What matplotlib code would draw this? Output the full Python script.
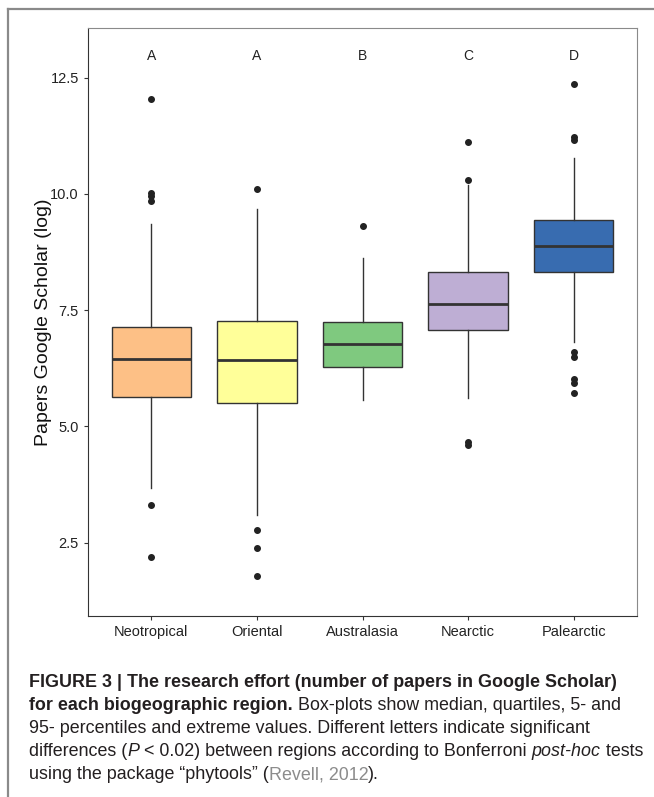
import matplotlib
matplotlib.use('Agg')
import matplotlib.pyplot as plt
from matplotlib.lines import Line2D
from matplotlib import font_manager

regions = ['Neotropical', 'Oriental', 'Australasia', 'Nearctic', 'Palearctic']
letters = ['A', 'A', 'B', 'C', 'D']
colors = ['#FDC086', '#FFFF99', '#7FC97F', '#BEAED4', '#386CB0']

q1 = [5.63, 5.50, 6.27, 7.07, 8.33]
med = [6.44, 6.43, 6.77, 7.63, 8.89]
q3 = [7.13, 7.27, 7.24, 8.31, 9.45]
whislo = [3.67, 3.10, 5.57, 5.62, 6.82]
whishi = [9.35, 9.68, 8.63, 10.19, 10.77]
fliers = [
    [12.05, 10.01, 9.96, 9.85, 3.30, 2.19],
    [10.11, 2.77, 2.39, 1.79],
    [9.32],
    [11.12, 10.31, 4.67, 4.60],
    [12.36, 11.23, 11.16, 6.59, 6.50, 6.02, 5.94, 5.71],
]

stats = []
for i in range(len(regions)):
    stats.append({'label': regions[i], 'q1': q1[i], 'med': med[i], 'q3': q3[i],
                  'whislo': whislo[i], 'whishi': whishi[i], 'fliers': fliers[i]})

plt.rcParams['font.family'] = ['Liberation Sans', 'DejaVu Sans']

fig = plt.figure(figsize=(6.54, 7.97), dpi=100)
W, H = 654, 797

# frame lines of the page figure
fig.add_artist(Line2D([8 / W, 1], [1 - 9 / H, 1 - 9 / H], color='#8a8a8a', lw=1.6))
fig.add_artist(Line2D([8 / W, 8 / W], [0, 1 - 9 / H], color='#8a8a8a', lw=1.6))

ax = fig.add_axes([88 / W, 1 - 616 / H, (637 - 88) / W, (616 - 28) / H])
bp = ax.bxp(stats, positions=range(1, 6), widths=0.75, patch_artist=True,
            showcaps=False,
            boxprops=dict(edgecolor='#333333', linewidth=1.0),
            medianprops=dict(color='#333333', linewidth=2.0),
            whiskerprops=dict(color='#333333', linewidth=1.0),
            flierprops=dict(marker='o', markerfacecolor='#222222', markeredgecolor='#222222',
                            markersize=4, linestyle='none'))
for patch, c in zip(bp['boxes'], colors):
    patch.set_facecolor(c)

for i, l in enumerate(letters):
    ax.text(i + 1, 12.97, l, ha='center', va='center', fontsize=10, color='#222222')

ax.set_xlim(0.4, 5.6)
ax.set_ylim(0.92, 13.57)
ax.set_yticks([2.5, 5.0, 7.5, 10.0, 12.5])
ax.set_yticklabels(['2.5', '5.0', '7.5', '10.0', '12.5'])
ax.set_xticks(range(1, 6))
ax.set_xticklabels(regions)
ax.tick_params(axis='both', labelsize=10.5, colors='#333333', length=3, labelcolor='#222222')
ax.set_ylabel('Papers Google Scholar (log)', fontsize=14, color='#111111', labelpad=-1)
for s in ['left', 'bottom']:
    ax.spines[s].set_color('#333333')
for s in ['top', 'right']:
    ax.spines[s].set_color('#8a8a8a')

# caption
names = {f.name for f in font_manager.fontManager.ttflist}
cap_font = 'Liberation Sans Narrow' if 'Liberation Sans Narrow' in names else 'Liberation Sans'
fig.canvas.draw()
renderer = fig.canvas.get_renderer()

caption = [
    [('FIGURE 3 | The research effort (number of papers in Google Scholar)', 'bold', 'normal', '#231f20')],
    [('for each biogeographic region.', 'bold', 'normal', '#231f20'),
     (' Box-plots show median, quartiles, 5- and', 'normal', 'normal', '#231f20')],
    [('95- percentiles and extreme values. Different letters indicate significant', 'normal', 'normal', '#231f20')],
    [('differences (', 'normal', 'normal', '#231f20'), ('P', 'normal', 'italic', '#231f20'),
     (' < 0.02) between regions according to Bonferroni ', 'normal', 'normal', '#231f20'),
     ('post-hoc', 'normal', 'italic', '#231f20'), (' tests', 'normal', 'normal', '#231f20')],
    [('using the package \u201cphytools\u201d (', 'normal', 'normal', '#231f20'),
     ('Revell, 2012', 'normal', 'normal', '#8c8c8c'), (').', 'normal', 'normal', '#231f20')],
]
baselines = [687, 710, 733, 756, 779]
for pieces, yy in zip(caption, baselines):
    x = 29
    for txt, wgt, sty, col in pieces:
        t = fig.text(x / W, 1 - yy / H, txt, fontsize=12.9, family=cap_font,
                     fontweight=wgt, fontstyle=sty, color=col, va='baseline', ha='left')
        bb = t.get_window_extent(renderer=renderer)
        x = x + bb.width

fig.savefig('out.png', dpi=100)
